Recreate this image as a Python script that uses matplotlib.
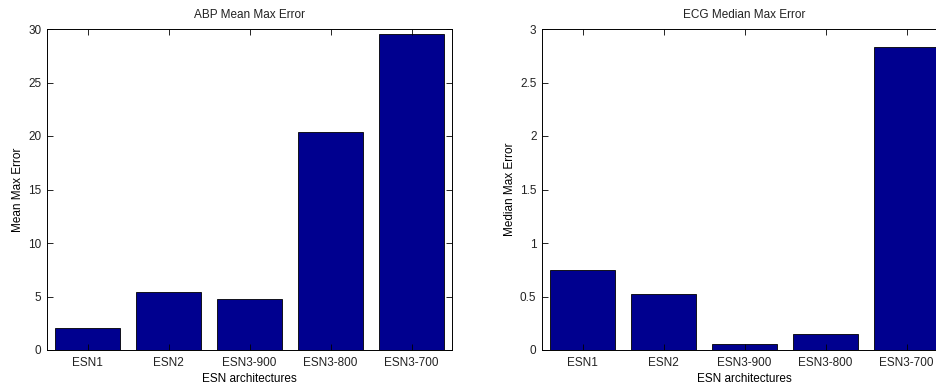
import matplotlib.pyplot as plt

categorias = ["ESN1", "ESN2", "ESN3-900", "ESN3-800", "ESN3-700"]
abp_mean_max = [2.09, 5.43, 4.75, 20.35, 29.56]
ecg_median_max = [0.746, 0.528, 0.053, 0.153, 2.835]

plt.rcParams['font.family'] = ['Liberation Sans', 'DejaVu Sans']
plt.rcParams['font.size'] = 8.5
plt.rcParams['text.color'] = '#222222'
plt.rcParams['xtick.labelcolor'] = '#222222'
plt.rcParams['ytick.labelcolor'] = '#222222'

fig = plt.figure(figsize=(9.37, 3.84), dpi=100)
W, H = 937, 384

def eixo(left_px, titulo, ylabel, valores, ylim, yticks, yticklabels):
    ax = fig.add_axes([left_px / W, (H - 350) / H, 405 / W, 321 / H])
    pos = list(range(1, len(valores) + 1))
    ax.bar(pos, valores, width=0.8, color='#00008F', edgecolor='black', linewidth=0.6)
    ax.set_xlim(0.5, len(valores) + 0.5)
    ax.set_ylim(*ylim)
    ax.set_xticks(pos)
    ax.set_xticklabels(categorias)
    ax.set_yticks(yticks)
    ax.set_yticklabels(yticklabels)
    ax.tick_params(direction='in', top=True, right=True, length=4, width=0.6)
    ax.tick_params(axis='x', pad=5)
    ax.tick_params(axis='y', pad=4)
    for s in ax.spines.values():
        s.set_linewidth(0.7)
    ax.set_title(titulo, fontsize=8.5, pad=8)
    ax.set_xlabel("ESN architectures", labelpad=3)
    ax.set_ylabel(ylabel, labelpad=3)
    return ax

eixo(47, "ABP Mean Max Error", "Mean Max Error", abp_mean_max, (0, 30),
     [0, 5, 10, 15, 20, 25, 30], ["0", "5", "10", "15", "20", "25", "30"])
eixo(542, "ECG Median Max Error", "Median Max Error", ecg_median_max, (0, 3),
     [0, 0.5, 1, 1.5, 2, 2.5, 3], ["0", "0.5", "1", "1.5", "2", "2.5", "3"])

plt.savefig("out.png", dpi=100)
